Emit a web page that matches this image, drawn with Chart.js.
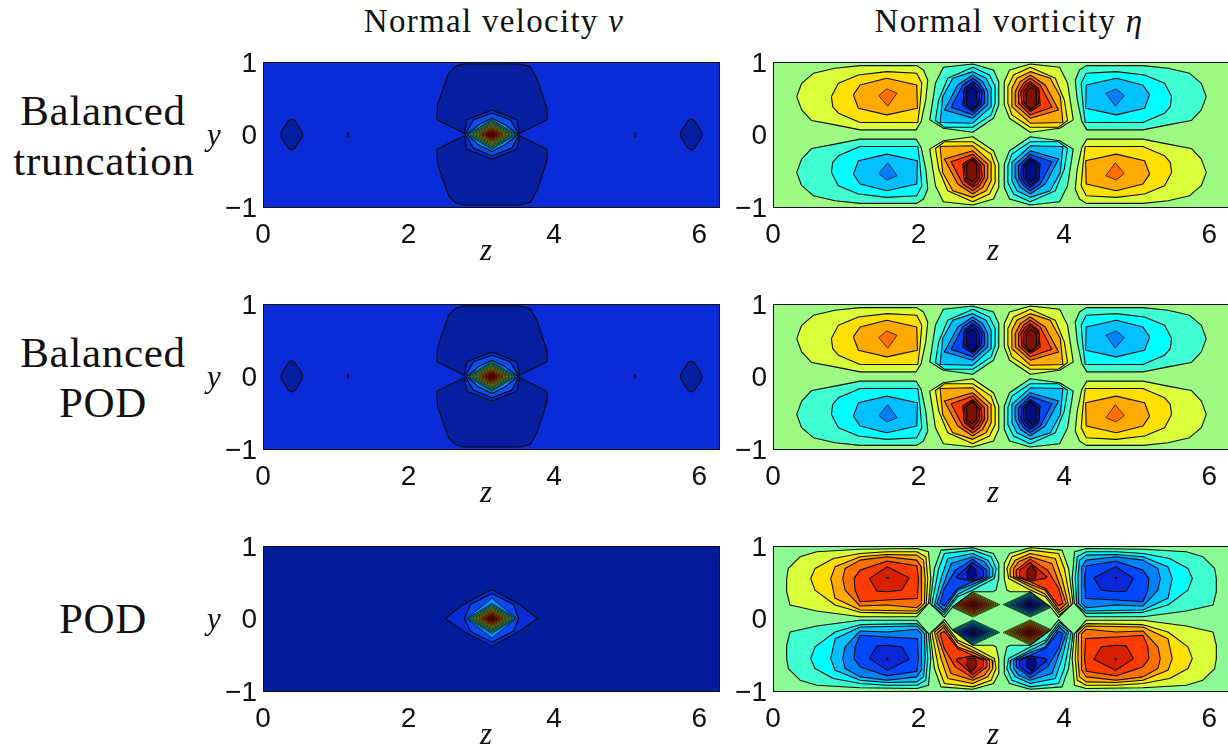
<!DOCTYPE html>
<html><head><meta charset="utf-8">
<style>
html,body{margin:0;padding:0;background:#fff;width:1228px;height:751px;overflow:hidden;position:relative}
canvas{position:absolute}
.t{position:absolute;font-family:"Liberation Serif",serif;color:#111;white-space:nowrap;transform:translate(-50%,-50%);line-height:1}
.row{font-size:43px;letter-spacing:.7px}
.col{font-size:33px;letter-spacing:1.3px}
.ax{font-size:31px;font-style:italic}
</style>
<script src="https://cdn.jsdelivr.net/npm/chart.js@4/dist/chart.umd.min.js"></script>
</head><body>
<script>
// Tick values and labels
const zTicks=[0,2,4,6];
const yTicks=[-1,0,1];
const zMax=6.2832;
const columnTitles=['Normal velocity <i>v</i>','Normal vorticity <i>η</i>'];
const rowTitles=[['Balanced','truncation'],['Balanced','POD'],['POD']];

// Contour level colours
const warmLevels=['#d8ff3a','#ffe000','#ffaa00','#ff7000','#ff3c00','#d82000','#a81000','#801000'];
const coolLevels=['#40ffd0','#00ffff','#00c0ff','#0080ff','#0048ff','#0a28d8','#0818b0','#000c88'];
const coreLevels=['#20d0ff','#30f0e0','#50ffb0','#70ff80','#90ff60','#b0ff40','#d8ff20','#ffe000','#ffc000','#ff9000','#ff6000','#ff3000','#e01000','#c00000','#a00000','#800000'];
const warmDiamondLevels=['#d8ff3a','#eeee20','#ffe000','#ffc800','#ffaa00','#ff9000','#ff7000','#ff5000','#ff3c00','#e02000','#c01000','#a81000','#901000','#801000'];
const coolDiamondLevels=['#40ffd0','#20ffee','#00ffff','#00e0ff','#00c0ff','#00a0ff','#0080ff','#0060ff','#0048ff','#0a28d8','#0820c0','#0818b0','#0010a0','#000c88'];

// Normal vorticity, balanced truncation: (z, y) vertices per contour
const etaLobeBT=[
 [[.326,.523],[.394,.706],[.555,.844],[.853,.913],[1.197,.95],[1.977,.95],[2.069,.89],[2.128,.752],[2.10,.477],[2.037,.179],[1.968,.064],[1.197,.064],[.853,.133],[.532,.193],[.394,.339]],
 [[.803,.523],[.899,.706],[1.174,.821],[1.564,.867],[1.977,.844],[2.046,.706],[2.023,.431],[1.991,.165],[1.197,.165],[.899,.294],[.821,.385]],
 [[1.105,.546],[1.197,.683],[1.564,.775],[1.977,.683],[1.986,.362],[1.564,.271],[1.174,.362]],
 [[1.454,.537],[1.564,.628],[1.706,.569],[1.578,.39]]
];
const etaCellBT=[
 [[3.179,.729],[3.252,.890],[3.537,.972],[3.941,.927],[4.05,.706],[4.128,.202],[3.941,.087],[3.537,.032],[3.252,.225],[3.179,.408]],
 [[3.229,.661],[3.307,.821],[3.537,.927],[3.881,.775],[4.005,.477],[4.05,.193],[3.927,.101],[3.537,.101],[3.284,.271],[3.229,.431]],
 [[3.284,.638],[3.353,.775],[3.537,.867],[3.812,.775],[3.95,.523],[3.986,.165],[3.537,.156],[3.284,.385]],
 [[3.33,.592],[3.399,.729],[3.537,.821],[3.743,.683],[3.927,.339],[3.537,.225],[3.33,.408]],
 [[3.376,.592],[3.445,.706],[3.537,.775],[3.674,.683],[3.835,.376],[3.537,.271],[3.376,.431]],
 [[3.408,.592],[3.468,.683],[3.537,.729],[3.651,.638],[3.674,.408],[3.537,.317],[3.422,.431]],
 [[3.445,.592],[3.537,.706],[3.665,.592],[3.651,.43],[3.537,.339],[3.445,.45]],
 [[3.482,.592],[3.546,.651],[3.628,.592],[3.619,.408],[3.546,.349],[3.482,.408]]
];
// Normal vorticity, POD
const etaLobePOD=[
 [[.188,.553],[.211,.690],[.372,.851],[.601,.920],[1.197,.956],[1.977,.966],[2.138,.920],[2.17,.553],[2.138,.209],[1.977,.025],[1.197,.025],[.601,.103],[.234,.186],[.188,.369]],
 [[.518,.553],[.578,.690],[.830,.828],[1.197,.897],[1.564,.92],[1.977,.92],[2.101,.851],[2.128,.553],[2.106,.186],[1.977,.071],[1.197,.085],[.853,.186],[.578,.392]],
 [[.794,.553],[.853,.713],[1.197,.851],[1.564,.883],[1.977,.874],[2.069,.805],[2.092,.553],[2.083,.209],[1.977,.103],[1.197,.117],[.853,.278]],
 [[.959,.553],[.991,.690],[1.197,.805],[1.564,.851],[1.977,.805],[2.037,.713],[2.046,.461],[2.037,.209],[1.977,.149],[1.564,.186],[1.197,.172],[.991,.392]],
 [[1.115,.553],[1.197,.667],[1.564,.791],[1.977,.727],[2,.553],[1.986,.278],[1.564,.255],[1.197,.232],[1.128,.392]],
 [[1.326,.553],[1.573,.713],[1.872,.562],[1.771,.392],[1.564,.369],[1.427,.378]]
];
const etaLobeDotPOD=[[1.55,.56],[1.57,.575],[1.59,.56],[1.57,.545]];
const etaCellPOD=[
 [[3.179,.553],[3.179,.759],[3.252,.897],[3.537,.975],[3.973,.943],[4.064,.690],[4.124,.209],[3.927,.016],[3.812,.162],[3.537,.369],[3.261,.37],[3.216,.392]],
 [[3.216,.690],[3.284,.851],[3.537,.943],[3.927,.897],[4.005,.690],[4.101,.186],[3.936,.048],[3.743,.300],[3.537,.392],[3.239,.553]],
 [[3.261,.690],[3.33,.805],[3.537,.897],[3.881,.828],[3.973,.553],[4.064,.186],[3.936,.085],[3.743,.333],[3.537,.438],[3.27,.576]],
 [[3.307,.690],[3.376,.782],[3.537,.851],[3.835,.759],[3.927,.507],[4.032,.209],[3.936,.117],[3.743,.392],[3.537,.47],[3.307,.576]],
 [[3.344,.667],[3.537,.819],[3.775,.667],[3.927,.415],[3.986,.209],[3.927,.177],[3.743,.415],[3.537,.507],[3.344,.576]],
 [[3.39,.667],[3.537,.773],[3.766,.576],[3.743,.553],[3.537,.516],[3.39,.576]],
 [[3.491,.667],[3.56,.736],[3.619,.644],[3.606,.553],[3.514,.544],[3.491,.576]]
];
const etaDiamondCentre=[3.535,.192];
const etaDiamondRx=[.37,.345,.32,.295,.27,.245,.22,.195,.17,.145,.115,.085,.055,.025];
const etaDiamondRy=[.172,.16,.149,.137,.126,.114,.102,.091,.079,.067,.053,.04,.026,.012];

// Normal velocity: upper dark lobe, side marks, rings and nested core
const vLobe=[[2.39,.202],[2.40,.408],[2.55,.844],[2.64,.936],[2.757,.972],[3.537,.972],[3.674,.936],[3.766,.775],[3.904,.362],[3.904,.202],[3.527,.018],[3.49,.202],[3.147,.339],[2.803,.202],[2.766,.018]];
const vSide=[[.25,.03],[.35,.19],[.395,.215],[.44,.19],[.54,.03],[.54,-.03],[.44,-.19],[.395,-.215],[.35,-.19],[.25,-.03]];
const vDot=[[1.155,0],[1.17,.035],[1.185,0],[1.17,-.035]];
const vRingsBal=[
 [[2.78,0],[2.894,.202],[3.147,.294],[3.399,.202],[3.523,0],[3.422,-.188],[3.147,-.294],[2.894,-.188]],
 [[2.804,0],[2.963,.133],[3.147,.225],[3.33,.133],[3.505,0],[3.33,-.142],[3.147,-.234],[2.963,-.142]]
];
const vRingsPOD=[
 [[2.505,0],[2.757,.193],[3.147,.399],[3.527,.193],[3.775,0],[3.527,-.174],[3.147,-.381],[2.757,-.174]],
 [[2.77,0],[2.85,.193],[3.147,.344],[3.445,.193],[3.514,0],[3.445,-.174],[3.147,-.326],[2.85,-.174]],
 [[2.80,0],[3.147,.28],[3.48,0],[3.147,-.27]]
];
const vCoreCentre=[3.145,0];
const vCoreRx=[.335,.315,.295,.275,.255,.235,.215,.195,.175,.155,.135,.115,.09,.07,.045,.025];
const vCoreRy=[.205,.192,.18,.168,.156,.144,.132,.12,.107,.095,.083,.07,.055,.043,.028,.015];

// Fill colours of the velocity panels and vorticity background
const vBalBack='#0a2cd8', vBalDark='#061fa0', vBalRings=['#0a50f0','#0090ff'];
const vPodBack='#031d9a', vPodRings=['#0a2cd8','#0a48f0','#0090ff'];
const etaBalBack='#9dfb84', etaPodBack='#8cfb96';

const mirZ=p=>p.map(([z,y])=>[zMax-z,y]);
const mirY=p=>p.map(([z,y])=>[z,-y]);
const mirZY=p=>mirY(mirZ(p));
const diamond=(c,rx,ry)=>[[c[0]-rx,c[1]],[c[0],c[1]+ry],[c[0]+rx,c[1]],[c[0],c[1]-ry]];

function etaLayers(lobe,cell,lobeIdx,cellIdx){
  const L=[];
  const add=(arr,idx)=>{
    arr.forEach((p,i)=>{
      L.push([p,warmLevels[idx[i]]]);L.push([mirZY(p),warmLevels[idx[i]]]);
      L.push([mirZ(p),coolLevels[idx[i]]]);L.push([mirY(p),coolLevels[idx[i]]]);
    });
  };
  add(lobe,lobeIdx);
  add(cell,cellIdx);
  return L;
}
function coreLayers(){return vCoreRx.map((r,i)=>[diamond(vCoreCentre,r,vCoreRy[i]),coreLevels[i]]);}
function vBalLayers(){
  const L=[[vLobe,vBalDark],[mirY(vLobe),vBalDark],[vSide,vBalDark],[mirZ(vSide),vBalDark],[vDot,vBalDark],[mirZ(vDot),vBalDark]];
  vRingsBal.forEach((p,i)=>L.push([p,vBalRings[i]]));
  return L.concat(coreLayers());
}
function vPodLayers(){
  const L=[];
  vRingsPOD.forEach((p,i)=>L.push([p,vPodRings[i]]));
  return L.concat(coreLayers());
}
function podDiamonds(){
  const L=[];const c=etaDiamondCentre;
  etaDiamondRx.forEach((r,i)=>{
    const d=diamond(c,r,etaDiamondRy[i]);
    L.push([d,coolDiamondLevels[i]]);
    L.push([mirY(d),warmDiamondLevels[i]]);
    L.push([mirZ(d),warmDiamondLevels[i]]);
    L.push([mirZY(d),coolDiamondLevels[i]]);
  });
  return L;
}
function etaPodLayers(){
  const L=podDiamonds().concat(etaLayers(etaLobePOD,etaCellPOD,[0,1,2,3,4,5],[0,1,2,3,4,5,7]));
  L.push([etaLobeDotPOD,'#000'],[mirZ(etaLobeDotPOD),'#000'],[mirY(etaLobeDotPOD),'#000'],[mirZY(etaLobeDotPOD),'#000']);
  return L;
}

const PW=457,PH=145,mL=60,mT=14,mR=12,mB=44;
const colX=[263,773];
const rowY=[62,304,546];
const panels=[
 [0,0,vBalBack,vBalLayers()],
 [1,0,etaBalBack,etaLayers(etaLobeBT,etaCellBT,[0,1,2,3],[0,1,2,3,4,5,6,7])],
 [0,1,vBalBack,vBalLayers()],
 [1,1,etaBalBack,etaLayers(etaLobeBT,etaCellBT,[0,1,2,3],[0,1,2,3,4,5,6,7])],
 [0,2,vPodBack,vPodLayers()],
 [1,2,etaPodBack,etaPodLayers()]
];
const frame=back=>({
  id:'frame',
  beforeDatasetsDraw(c){const a=c.chartArea,x=c.ctx;x.save();x.fillStyle=back;x.fillRect(a.left,a.top,a.width,a.height);x.restore();},
  afterDatasetsDraw(c){const a=c.chartArea,x=c.ctx;x.save();x.strokeStyle='#111';x.lineWidth=1;x.strokeRect(a.left+.5,a.top+.5,a.width-1,a.height);x.restore();}
});
const tickFont={family:'"Liberation Sans",Arial,sans-serif',size:28};
panels.forEach(([col,row,back,layers])=>{
  const cv=document.createElement('canvas');
  cv.width=PW+mL+mR;cv.height=PH+mT+mB;
  cv.style.left=(colX[col]-mL)+'px';cv.style.top=(rowY[row]-mT)+'px';
  cv.style.width=cv.width+'px';cv.style.height=cv.height+'px';
  document.body.appendChild(cv);
  const datasets=layers.map(([p,color])=>({
    data:p.concat([p[0]]).map(([x,y])=>({x,y})),
    showLine:true,fill:'shape',backgroundColor:color,borderColor:'#0a0a0a',
    borderWidth:p.length<=4?0.75:1.1,pointRadius:0,pointHoverRadius:0,tension:0,borderJoinStyle:'round'
  })).reverse();
  new Chart(cv,{type:'scatter',data:{datasets},plugins:[frame(back)],options:{
    responsive:false,animation:false,events:[],devicePixelRatio:1,
    layout:{padding:{left:0,top:0,right:mR,bottom:0}},
    plugins:{legend:{display:false},tooltip:{enabled:false}},
    scales:{
      x:{type:'linear',min:0,max:zMax,grid:{display:false,drawTicks:false},border:{display:false},
        afterBuildTicks:s=>{s.ticks=zTicks.map(v=>({value:v}));},
        afterFit:s=>{s.height=mB;},
        ticks:{color:'#111',font:tickFont,padding:11,maxRotation:0,autoSkip:false,callback:v=>String(v)}},
      y:{type:'linear',min:-1,max:1,grid:{display:false,drawTicks:false},border:{display:false},
        afterBuildTicks:s=>{s.ticks=yTicks.map(v=>({value:v}));},
        afterFit:s=>{s.width=mL;s.paddingTop=mT;},
        ticks:{color:'#111',font:tickFont,padding:6,labelOffset:2,autoSkip:false,callback:v=>String(v).replace('-','\u2212')}}
    }}});
});
function text(cls,html,x,y){const d=document.createElement('div');d.className='t '+cls;d.innerHTML=html;d.style.left=x+'px';d.style.top=y+'px';document.body.appendChild(d);}
text('col',columnTitles[0],494,21);
text('col',columnTitles[1],1009,21);
const rowCentre=[135,377,619];
text('row',rowTitles[0][0],103,110);text('row',rowTitles[0][1],104,160);
text('row',rowTitles[1][0],103,352);text('row',rowTitles[1][1],103,402);
text('row',rowTitles[2][0],103,618);
rowCentre.forEach((c,i)=>{
  text('ax','y',214,c-1);
  text('ax','z',486,c+114);
  text('ax','z',993,c+114);
});
</script>
</body></html>
